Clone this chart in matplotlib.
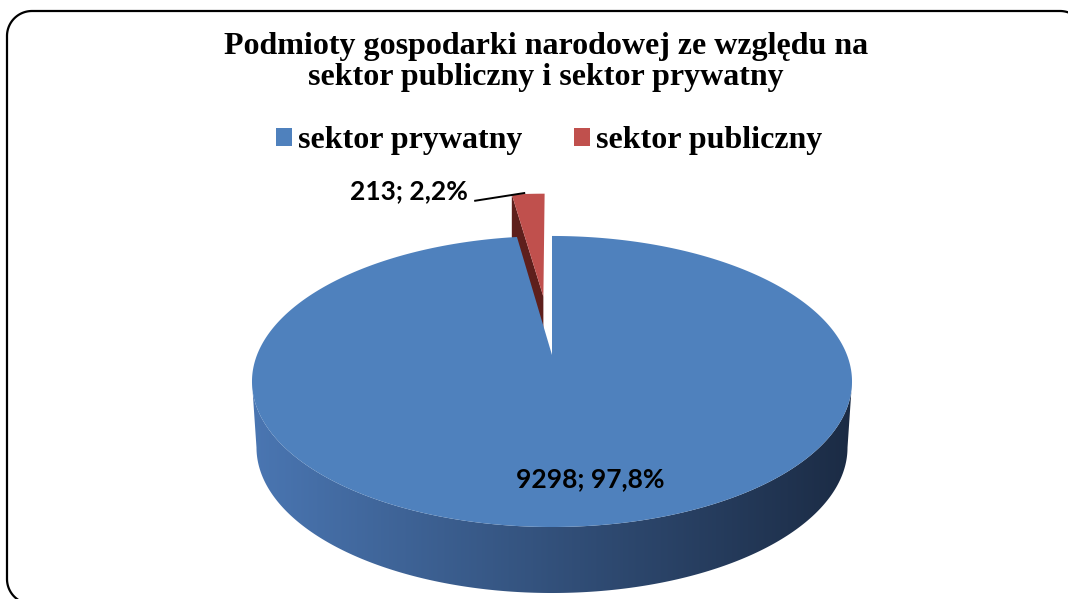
import numpy as np
import matplotlib
matplotlib.use("Agg")
import matplotlib.pyplot as plt
from matplotlib.patches import Polygon, Patch

# ---------------- data ----------------
categories = ["sektor prywatny", "sektor publiczny"]
values = [9298, 213]
explode = [0.0, 0.45]
title_lines = ["Podmioty gospodarki narodowej ze względu na",
               "sektor publiczny i sektor prywatny"]

# ---------------- style / layout ----------------
top_colors = ["#4F81BD", "#C0504D"]
side_dark_red = "#5E1F1C"
wall_left_rgb = np.array([74, 118, 178]) / 255.0
wall_right_rgb = np.array([27, 43, 68]) / 255.0
W, H = 1068, 599
cx, cy = 552.0, 355.0      # projected pie centre (pixels)
A, B = 295.0, 140.7        # horizontal / vertical radius scale
p = 0.182                  # perspective strength
D = 66.0                   # wall depth (pixels)
bottom_shrink = 0.985      # bottom rim slightly narrower (perspective)
frame_box = (7, 11, 1085, 604)   # left, top, right, bottom (pixels)
frame_r = 25

fig = plt.figure(figsize=(W / 100, H / 100), dpi=100)
ax = fig.add_axes([0, 0, 1, 1])
ax.set_xlim(0, W)
ax.set_ylim(H, 0)
ax.set_autoscale_on(False)
ax.axis("off")


def proj(u, v, drop=0.0, shrink=1.0):
    u = np.asarray(u, float)
    v = np.asarray(v, float)
    s = 1.0 + p * v
    return cx + shrink * A * u / s, cy - B * v / s + drop


total = float(sum(values))
fracs = [v / total for v in values]
bounds = []
start = 90.0
for f in fracs:
    end = start - f * 360.0
    bounds.append((start, end))
    start = end

# ---- outer wall of the big slice (front side) ----
ts = np.arcsin(p)
theta_w = np.linspace(np.pi + ts, 2 * np.pi - ts, 300)
xt, yt = proj(np.cos(theta_w), np.sin(theta_w))
xb, yb = proj(np.cos(theta_w), np.sin(theta_w), D, bottom_shrink)
wall_pts = np.column_stack([np.concatenate([xt, xb[::-1]]),
                            np.concatenate([yt, yb[::-1]])])
wall = Polygon(wall_pts, closed=True, facecolor="none", edgecolor="none")
ax.add_patch(wall)
grad_x = np.linspace(0, 1, 256)
grad = (wall_left_rgb[None, :] * (1 - grad_x[:, None]) +
        wall_right_rgb[None, :] * grad_x[:, None])
img = ax.imshow(grad[None, :, :], extent=(xt.min(), xt.max(), yb.max() + 2, yt.min() - 2),
                aspect="auto", zorder=1, interpolation="bilinear")
img.set_clip_path(wall)
ax.set_xlim(0, W)
ax.set_ylim(H, 0)

# ---- exploded small slice (behind) ----
t1, t2 = bounds[1]
mid = np.radians((t1 + t2) / 2)
e = explode[1]
ou, ov = e * np.cos(mid), e * np.sin(mid)
th = np.radians(np.linspace(t1, t2, 40))
au, av = np.cos(th) + ou, np.sin(th) + ov
drop_r = D * (1 - p) / (1 + p * (ov + 1))
ax_, ay_ = proj(ou, ov)
ex_, ey_ = proj(np.cos(np.radians(t1)) + ou, np.sin(np.radians(t1)) + ov)
side = Polygon([[ax_, ay_], [ex_, ey_], [ex_, ey_ + drop_r], [ax_, ay_ + drop_r]],
               closed=True, facecolor=side_dark_red, edgecolor="none", zorder=2)
ax.add_patch(side)
rx, ry = proj(np.concatenate([[ou], au]), np.concatenate([[ov], av]))
ax.add_patch(Polygon(np.column_stack([rx, ry]), closed=True,
                     facecolor=top_colors[1], edgecolor="none", zorder=3))

# ---- top face of big slice ----
b1, b2 = bounds[0]
thb = np.radians(np.linspace(b1, b2, 600))
bx, by = proj(np.concatenate([[0], np.cos(thb)]), np.concatenate([[0], np.sin(thb)]))
ax.add_patch(Polygon(np.column_stack([bx, by]), closed=True,
                     facecolor=top_colors[0], edgecolor="none", zorder=4))


# ---- data labels ----
def fmt(v):
    return f"{v}; {v / total * 100:.1f}".replace(".", ",") + "%"


label_font = dict(family="Lato", weight="bold", fontsize=19, color="black")
bm = np.radians((b1 + b2) / 2)
lx, ly = proj(0.76 * np.cos(bm), 0.76 * np.sin(bm))
ax.text(lx + 20, ly, fmt(values[0]), ha="center", va="center", zorder=6, **label_font)

mx, my = proj(np.cos(mid) + ou, np.sin(mid) + ov)
ax.plot([mx - 54, mx - 3], [my + 7, my - 1], color="black", lw=1.4, zorder=6,
        solid_capstyle="butt")
ax.text(mx - 60, my - 3, fmt(values[1]), ha="right", va="center", zorder=6, **label_font)

# ---- title ----
fig.text(546 / W, 1 - 62 / H, "\n".join(title_lines), ha="center", va="center",
         fontsize=23, fontweight="bold", family="Liberation Serif",
         linespacing=1.12)

# ---- legend ----
handles = [Patch(facecolor=c, edgecolor="none") for c in top_colors]
fig.legend(handles, categories, loc="center", bbox_to_anchor=(549 / W, 1 - 141 / H),
           ncol=2, frameon=False, handlelength=0.5, handleheight=0.5,
           handletextpad=0.2, columnspacing=1.6,
           prop=dict(family="Liberation Serif", weight="bold", size=23))

# ---- rounded frame (axes data units = pixels) ----
L, T, R, Bt = frame_box
r = frame_r
a = np.linspace(0, np.pi / 2, 30)
fx = np.concatenate([L + r - r * np.sin(a),            # bottom-left corner
                     L + r - r * np.cos(a),            # top-left corner
                     R - r + r * np.sin(a)])           # top-right corner
fy = np.concatenate([Bt - r + r * np.cos(a),
                     T + r - r * np.sin(a),
                     T + r - r * np.cos(a)])
fx = np.concatenate([fx, [R]])
fy = np.concatenate([fy, [Bt]])
ax.plot(fx, fy, color="black", lw=1.6, zorder=10, clip_on=False,
        solid_joinstyle="round")

fig.savefig("out.png", dpi=100)
